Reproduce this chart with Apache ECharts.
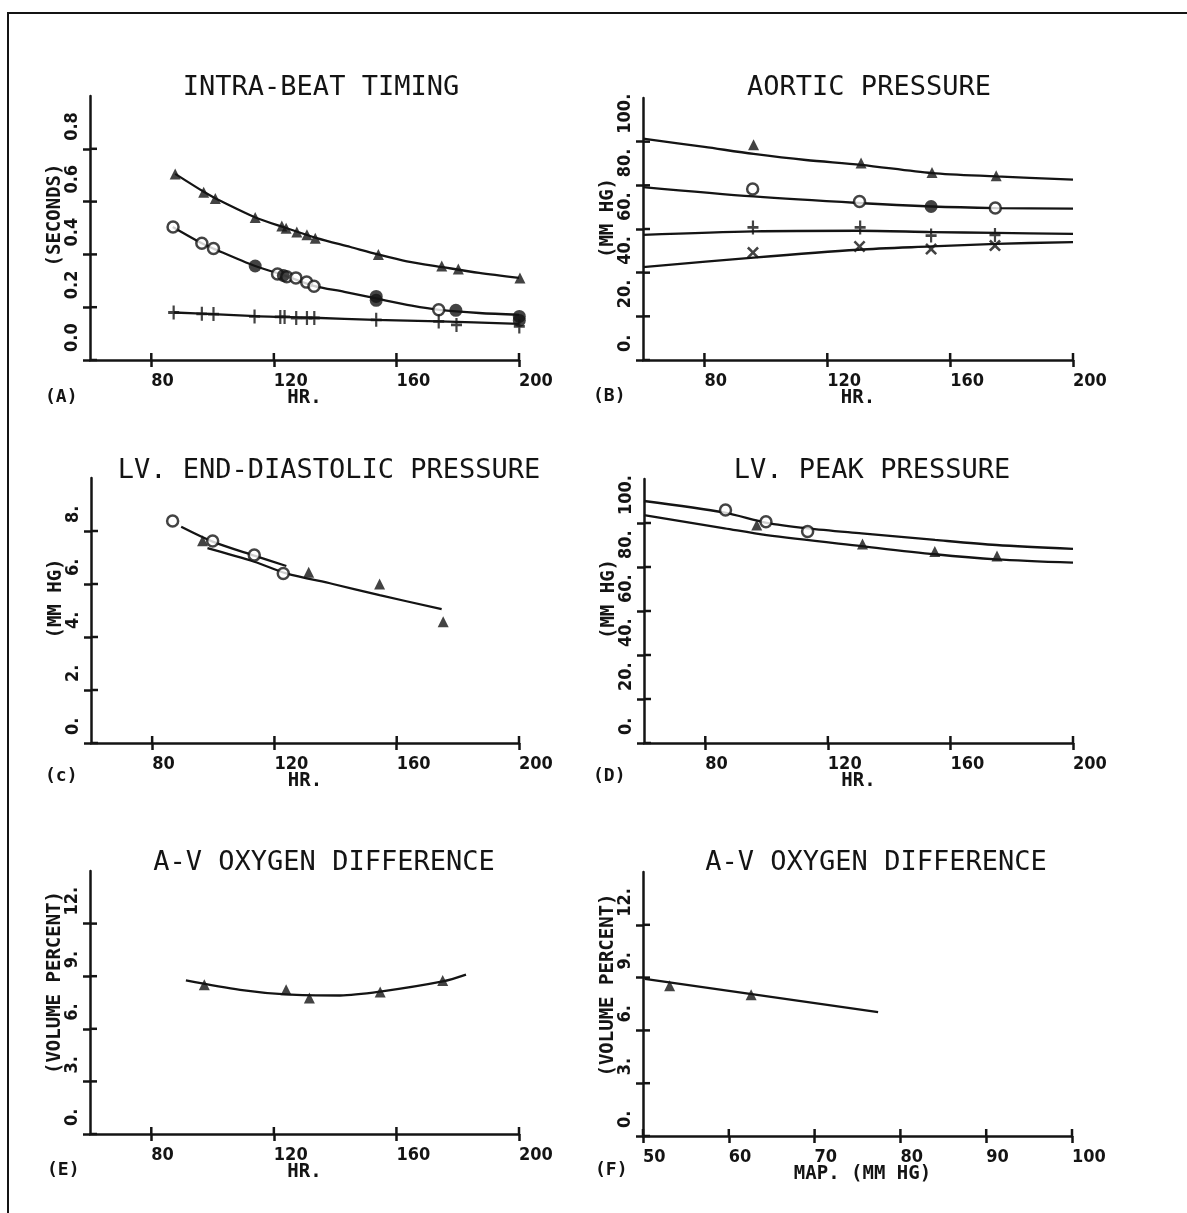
<!DOCTYPE html>
<html><head><meta charset="utf-8">
<script src="https://cdn.jsdelivr.net/npm/echarts@6/dist/echarts.min.js"></script>
<style>html,body{margin:0;padding:0;background:#fff}#c{width:1187px;height:1213px}</style>
</head><body><div id="c"></div>
<script>
// ---------------- DATA ----------------
const xTicksHR = [80, 120, 160, 200];
const xTicksMAP = [50, 60, 70, 80, 90, 100];
const yTicksA = [0, 0.2, 0.4, 0.6, 0.8];
const yTicksP = [0, 20, 40, 60, 80, 100];
const yTicksC = [0, 2, 4, 6, 8];
const yTicksV = [0, 3, 6, 9, 12];

const titles = ['INTRA-BEAT TIMING', 'AORTIC PRESSURE', 'LV. END-DIASTOLIC PRESSURE', 'LV. PEAK PRESSURE', 'A-V OXYGEN DIFFERENCE', 'A-V OXYGEN DIFFERENCE'];
const panelTags = ['(A)', '(B)', '(c)', '(D)', '(E)', '(F)'];
const xNames = ['HR.', 'HR.', 'HR.', 'HR.', 'HR.', 'MAP. (MM HG)'];
const yNames = ['(SECONDS)', '(MM HG)', '(MM HG)', '(MM HG)', '(VOLUME PERCENT)', '(VOLUME PERCENT)'];

// (A) intra-beat timing
const aTri = [[87.8,0.705],[97.1,0.635],[100.9,0.612],[113.9,0.540],[122.6,0.508],[124.0,0.499],[127.5,0.485],[130.8,0.474],[133.5,0.461],[154.1,0.400],[174.8,0.356],[180.2,0.345],[200.3,0.311]];
const aCircOpen = [[87.1,0.504],[96.5,0.442],[100.3,0.422],[121.2,0.326],[124.2,0.315],[127.2,0.311],[130.7,0.295],[133.1,0.279],[173.8,0.190]];
const aCircFilled = [[113.9,0.356],[123.1,0.320],[153.4,0.241],[153.4,0.226],[179.4,0.188],[200.1,0.165],[200.1,0.150]];
const aPlus = [[87.3,0.180],[96.5,0.175],[100.3,0.174],[113.7,0.165],[122.1,0.163],[123.5,0.163],[127.3,0.159],[130.8,0.159],[133.2,0.159],[153.4,0.152],[173.8,0.146],[179.6,0.133],[200.1,0.127]];
const aTopCurve = [[87.8,0.705],[97,0.638],[101,0.612],[114,0.540],[124,0.500],[134,0.462],[145,0.428],[154,0.400],[163.4,0.374],[175,0.352],[187,0.330],[200,0.311]];
const aMidCurve = [[87,0.504],[96.5,0.442],[100.3,0.422],[113.9,0.356],[123,0.322],[133,0.281],[143,0.258],[153.4,0.233],[165,0.206],[174,0.190],[187,0.178],[200,0.171]];
const aBotCurve = [[87.3,0.180],[100,0.174],[114,0.166],[123,0.163],[133,0.160],[153,0.152],[174,0.146],[200,0.137]];

// (B) aortic pressure
const bTri = [[96.0,98.6],[131.0,90.2],[154.1,85.9],[175.0,84.4]];
const bCircOpen = [[95.7,78.3],[130.5,72.6],[174.7,69.6]];
const bCircFilled = [[153.8,70.3]];
const bPlus = [[95.8,60.7],[130.7,60.7],[153.8,57.0],[174.6,57.3]];
const bX = [[95.8,49.2],[130.5,52.0],[153.8,50.8],[174.6,52.4]];
const bTopCurve = [[60,101.4],[80,97.6],[96,94.4],[113,91.6],[131,89.4],[154,85.6],[175,84.1],[200,82.6]];
const bMidCurve = [[60,79.2],[96,74.9],[130,71.9],[154,70.3],[175,69.6],[200,69.3]];
const bPlusCurve = [[60,57.3],[96,58.9],[130,59.2],[154,58.6],[175,58.2],[200,57.8]];
const bXCurve = [[60,42.5],[96,46.9],[130,50.5],[154,52.0],[175,53.2],[200,54.0]];

// (C) LV end-diastolic pressure
const cCirc = [[86.7,8.38],[99.8,7.62],[113.4,7.09],[122.9,6.40]];
const cTri = [[96.5,7.63],[131.2,6.44],[154.4,6.00],[175.2,4.58]];
const cUpperCurve = [[89.5,8.16],[99.8,7.60],[113.4,7.07],[123.9,6.68]];
const cLowerCurve = [[98.1,7.35],[113.4,6.84],[123.9,6.40],[139.1,6.00],[154.4,5.58],[174.7,5.05]];

// (D) LV peak pressure
const dCirc = [[86.6,105.9],[99.8,100.6],[113.4,96.1]];
const dTri = [[96.8,99.1],[131.3,90.5],[154.9,87.0],[175.2,85.0]];
const dUpperCurve = [[60,110],[86.3,104.7],[100,100.1],[113.4,97.6],[131,95.3],[155,92.3],[175,90.0],[200,88.2]];
const dLowerCurve = [[60,103.6],[86.3,97.6],[100,94.5],[131,89.5],[155,85.8],[175,83.5],[200,82.0]];

// (E) A-V O2 difference vs HR
const eTri = [[97.3,8.51],[124.0,8.23],[131.6,7.75],[154.7,8.10],[175.1,8.76]];
const eCurve = [[91.3,8.76],[109,8.22],[124,7.96],[141.6,7.90],[154.7,8.12],[175.1,8.70],[182.7,9.09]];

// (F) A-V O2 difference vs MAP
const fTri = [[53.1,8.53],[62.6,8.02]];
const fLine = [[50.2,8.93],[77.4,7.04]];

// ---------------- LAYOUT / STYLE ----------------
const INK = '#141414';
const LABEL_FONT = "'DejaVu Sans Condensed','Liberation Sans Narrow','DejaVu Sans',sans-serif";
const NAME_FONT = "'DejaVu Sans Mono',monospace";
const TITLE_FONT = "'DejaVu Sans Mono',monospace";

const grids = [
  {left: 90, top: 96, width: 429, height: 264},
  {left: 643, top: 98, width: 430, height: 262},
  {left: 91, top: 478, width: 428, height: 265},
  {left: 644, top: 479, width: 429, height: 264},
  {left: 90, top: 871, width: 429, height: 263},
  {left: 643, top: 872, width: 429, height: 264}
];
const titlePos = [[321,88],[869,88],[329,471],[872,471],[324,863],[876,863]];
const tagPos = [[45,397],[593,396],[45,776],[593,776],[47,1170],[595,1170]];
const yNamePad = [26, 22, 24, 24, 40, 38];

const panels = [
  {xr:[60,200], xt:xTicksHR, yr:[0,1.0], yt:yTicksA, fmt: v => v.toFixed(1)},
  {xr:[60,200], xt:xTicksHR, yr:[0,120], yt:yTicksP, fmt: v => v + '.'},
  {xr:[60,200], xt:xTicksHR, yr:[0,10], yt:yTicksC, fmt: v => v + '.'},
  {xr:[60,200], xt:xTicksHR, yr:[0,120], yt:yTicksP, fmt: v => v + '.'},
  {xr:[60,200], xt:xTicksHR, yr:[0,15], yt:yTicksV, fmt: v => v + '.'},
  {xr:[50,100], xt:xTicksMAP, yr:[0,15], yt:yTicksV, fmt: v => v + '.'}
];

const TICK = 7;
const xAxis = [], yAxis = [];
const tickStyle = {color: INK, width: 2.5};
panels.forEach((p, i) => {
  const lineStyle = {color: INK, width: 2.5};
  xAxis.push({
    type: 'value', gridIndex: i, min: p.xr[0], max: p.xr[1], position: 'bottom',
    splitLine: {show: false},
    axisLine: {onZero: false, lineStyle},
    axisTick: {customValues: p.xt, length: TICK, lineStyle: tickStyle},
    axisLabel: {customValues: p.xt, align: 'left', margin: 12, formatter: v => String(v),
      fontFamily: LABEL_FONT, fontWeight: 'bold', fontSize: 18, color: INK},
    name: xNames[i], nameLocation: 'middle', nameGap: 29, nameMoveOverlap: false,
    nameTextStyle: {fontFamily: NAME_FONT, fontWeight: 'bold', fontSize: 19, color: INK,
      padding: i === 5 ? [0,0,0,10] : 0}
  });
  yAxis.push({
    type: 'value', gridIndex: i, min: p.yr[0], max: p.yr[1], position: 'left',
    splitLine: {show: false},
    axisLine: {onZero: false, lineStyle},
    axisTick: {customValues: p.yt, length: TICK, lineStyle: tickStyle},
    axisLabel: {customValues: p.yt, formatter: p.fmt, rotate: 90, align: 'left', verticalAlign: 'bottom',
      margin: 9, padding: [0,0,0,8],
      fontFamily: LABEL_FONT, fontWeight: 'bold', fontSize: 18, color: INK},
    name: yNames[i], nameLocation: 'middle', nameRotate: 90, nameGap: 25, nameMoveOverlap: false,
    nameTextStyle: {fontFamily: NAME_FONT, fontWeight: 'bold', fontSize: 19, color: INK,
      align: 'center', verticalAlign: 'bottom', padding: [0,0,0,yNamePad[i]]}
  });
});

const PLUS = 'path://M4,0H6V4H10V6H6V10H4V6H0V4H4Z';
const CROSS = 'path://M0,1.5L1.5,0L5,3.5L8.5,0L10,1.5L6.5,5L10,8.5L8.5,10L5,6.5L1.5,10L0,8.5L3.5,5Z';

function curve(i, data) {
  return {type: 'line', xAxisIndex: i, yAxisIndex: i, data, smooth: 0.3, showSymbol: false,
    lineStyle: {color: INK, width: 2.3}, z: 2, silent: true, animation: false};
}
function pts(i, data, kind) {
  const s = {type: 'scatter', xAxisIndex: i, yAxisIndex: i, data, clip: false, z: 3, animation: false};
  if (kind === 'tri') { s.symbol = 'triangle'; s.symbolSize = 11; s.itemStyle = {color: INK}; }
  else if (kind === 'circ') { s.symbol = 'circle'; s.symbolSize = 11; s.itemStyle = {color: '#fff', borderColor: INK, borderWidth: 2.5}; }
  else if (kind === 'fcirc') { s.symbol = 'circle'; s.symbolSize = 13; s.itemStyle = {color: INK}; }
  else if (kind === 'plus') { s.symbol = PLUS; s.symbolSize = [11, 14]; s.itemStyle = {color: INK}; }
  else if (kind === 'x') { s.symbol = CROSS; s.symbolSize = 12; s.itemStyle = {color: INK}; }
  return s;
}

const series = [
  curve(0, aTopCurve), curve(0, aMidCurve), curve(0, aBotCurve),
  pts(0, aTri, 'tri'), pts(0, aCircOpen, 'circ'), pts(0, aCircFilled, 'fcirc'), pts(0, aPlus, 'plus'),
  curve(1, bTopCurve), curve(1, bMidCurve), curve(1, bPlusCurve), curve(1, bXCurve),
  pts(1, bTri, 'tri'), pts(1, bCircOpen, 'circ'), pts(1, bCircFilled, 'fcirc'), pts(1, bPlus, 'plus'), pts(1, bX, 'x'),
  curve(2, cUpperCurve), curve(2, cLowerCurve),
  pts(2, cTri, 'tri'), pts(2, cCirc, 'circ'),
  curve(3, dUpperCurve), curve(3, dLowerCurve),
  pts(3, dTri, 'tri'), pts(3, dCirc, 'circ'),
  curve(4, eCurve), pts(4, eTri, 'tri'),
  curve(5, fLine), pts(5, fTri, 'tri')
];

const graphic = [
  {type: 'polyline', shape: {points: [[8,1213],[8,13],[1187,13]]}, style: {stroke: INK, lineWidth: 2, fill: null}, silent: true}
];
titles.forEach((t, i) => {
  graphic.push({type: 'text', x: titlePos[i][0], y: titlePos[i][1],
    style: {text: t, fontFamily: TITLE_FONT, fontSize: 27, fill: INK, align: 'center', verticalAlign: 'middle'}});
});
panelTags.forEach((t, i) => {
  graphic.push({type: 'text', x: tagPos[i][0], y: tagPos[i][1],
    style: {text: t, fontFamily: NAME_FONT, fontWeight: 'bold', fontSize: 18, fill: INK, align: 'left', verticalAlign: 'middle'}});
});

const chart = echarts.init(document.getElementById('c'), null, {renderer: 'canvas'});
chart.setOption({
  backgroundColor: '#fff',
  animation: false,
  grid: grids.map(g => Object.assign({containLabel: false}, g)),
  xAxis, yAxis, series, graphic
});

// inner half of the plotter-style crossing ticks, positioned through each grid's own scales
const tickLines = [];
panels.forEach((p, i) => {
  p.xt.forEach(v => {
    const c = chart.convertToPixel({gridIndex: i}, [v, p.yr[0]]);
    tickLines.push({type: 'line', silent: true, z: 10,
      shape: {x1: c[0], y1: c[1], x2: c[0], y2: c[1] - TICK}, style: {stroke: INK, lineWidth: 2.5}});
  });
  p.yt.forEach(v => {
    const c = chart.convertToPixel({gridIndex: i}, [p.xr[0], v]);
    tickLines.push({type: 'line', silent: true, z: 10,
      shape: {x1: c[0], y1: c[1], x2: c[0] + TICK, y2: c[1]}, style: {stroke: INK, lineWidth: 2.5}});
  });
});
chart.setOption({graphic: graphic.concat(tickLines)});
</script></body></html>
